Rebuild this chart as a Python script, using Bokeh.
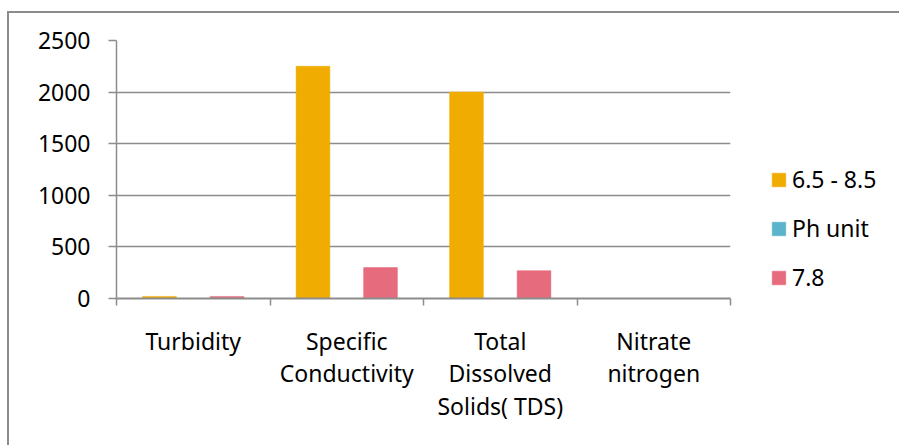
from bokeh.plotting import figure
from bokeh.models import ColumnDataSource, FixedTicker, Legend, LegendItem
from bokeh.transform import dodge
from bokeh.embed import file_html
from bokeh.resources import INLINE

# Water quality parameters and the three plotted series
categories = ["Turbidity", "Specific\nConductivity", "Total\nDissolved\nSolids( TDS)", "Nitrate\nnitrogen"]
series_names = ["6.5 - 8.5", "Ph unit", "7.8"]
standard_range = [20, 2250, 2000, 0]
ph_unit = [0, 0, 0, 0]
measured = [20, 300, 270, 0]
y_ticks = [0, 500, 1000, 1500, 2000, 2500]

colors = ["#F0AC00", "#5BB4CB", "#E66B7D"]
FONT = "Noto Sans"
GREY = "#8C8C8C"

centers = [i + 0.5 for i in range(len(categories))]
source = ColumnDataSource(dict(
    pos=centers,
    standard=standard_range,
    ph=ph_unit,
    measured=measured,
))

p = figure(
    frame_width=614, frame_height=258,
    x_range=(0, len(categories)), y_range=(0, 2500),
    output_backend="svg", toolbar_location=None,
    min_border_left=116, min_border_top=40,
    min_border_right=169, min_border_bottom=147,
)
# Chart-area border (top and left edges) painted behind a transparent canvas
line = f"linear-gradient({GREY}, {GREY})"
p.styles = {
    "background": f"{line} 7px 11px / 100% 2px no-repeat, {line} 7px 11px / 2px 100% no-repeat, white",
    "vertical-align": "top",
}
p.outline_line_color = None
p.background_fill_color = "white"
p.border_fill_color = None

bar_w = 0.22
cols = ["standard", "ph", "measured"]
offsets = [-bar_w, 0.0, bar_w]
renderers = []
for col, off, c in zip(cols, offsets, colors):
    r = p.vbar(x=dodge("pos", off), top=col, width=bar_w, source=source,
               fill_color=c, line_color=c, line_width=0.5)
    renderers.append(r)

# Category axis: labels at centers, tick marks at the boundaries
xa = p.xaxis[0]
xa.ticker = FixedTicker(ticks=centers, minor_ticks=list(range(len(categories) + 1)))
xa.major_label_overrides = {c: lab for c, lab in zip(centers, categories)}
xa.major_tick_line_color = None
xa.minor_tick_line_color = GREY
xa.minor_tick_line_width = 1.5
xa.minor_tick_out = 7
xa.minor_tick_in = 0
xa.axis_line_color = GREY
xa.axis_line_width = 2
xa.major_label_standoff = 19
xa.major_label_text_font = FONT
xa.major_label_text_font_size = "23px"
xa.major_label_text_color = "black"
xa.major_label_text_line_height = 1.03

ya = p.yaxis[0]
ya.ticker = FixedTicker(ticks=y_ticks)
ya.minor_tick_line_color = None
ya.major_tick_line_color = GREY
ya.major_tick_line_width = 1.5
ya.major_tick_out = 8
ya.major_tick_in = 0
ya.axis_line_color = GREY
ya.axis_line_width = 1.5
ya.major_label_standoff = 18
ya.major_label_text_font = FONT
ya.major_label_text_font_size = "23px"
ya.major_label_text_color = "black"

p.xgrid.grid_line_color = None
p.ygrid.ticker = FixedTicker(ticks=y_ticks)
p.ygrid.grid_line_color = GREY
p.ygrid.grid_line_width = 1.5

legend = Legend(
    items=[LegendItem(label=n, renderers=[r]) for n, r in zip(series_names, renderers)],
    location=(40, 5),
    orientation="vertical",
    margin=0, padding=0,
    border_line_color=None, background_fill_alpha=0,
    glyph_width=17, glyph_height=17,
    label_standoff=5, spacing=17,
    label_text_font=FONT, label_text_font_size="23px", label_text_color="black",
)
p.add_layout(legend, "right")

open("out.html", "w").write(file_html(p, INLINE))
